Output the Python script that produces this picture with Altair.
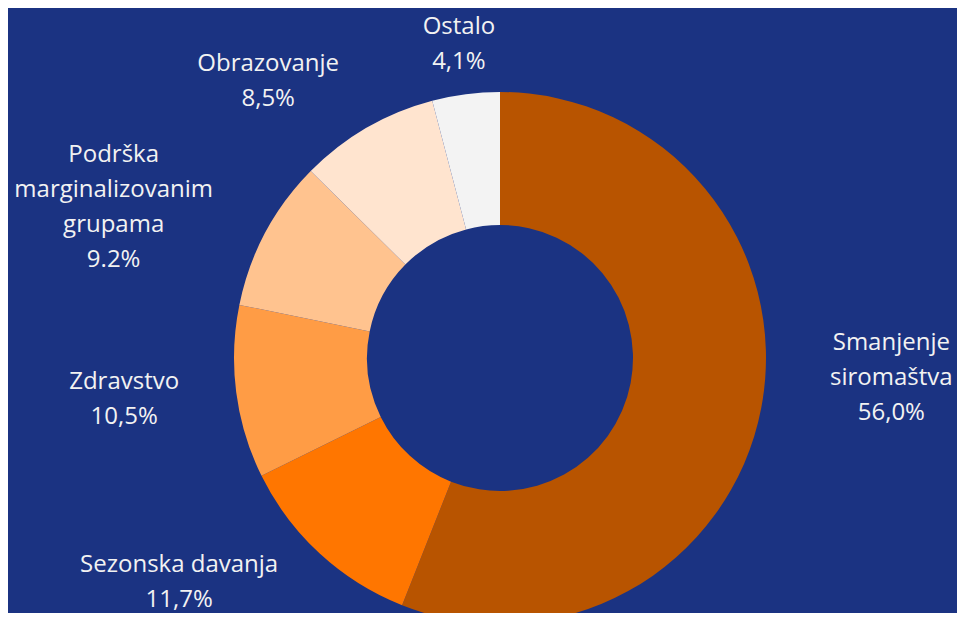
import altair as alt
import pandas as pd

# ---- data ----
categories = [
    "Smanjenje siromaštva",
    "Sezonska davanja",
    "Zdravstvo",
    "Podrška marginalizovanim grupama",
    "Obrazovanje",
    "Ostalo",
]
values = [56.0, 11.7, 10.5, 9.2, 8.5, 4.1]
value_labels = ["56,0%", "11,7%", "10,5%", "9.2%", "8,5%", "4,1%"]
name_lines = [
    "Smanjenje\nsiromaštva",
    "Sezonska davanja",
    "Zdravstvo",
    "Podrška\nmarginalizovanim\ngrupama",
    "Obrazovanje",
    "Ostalo",
]
colors = ["#b85400", "#ff7600", "#ff9c45", "#ffc38f", "#ffe4cf", "#f3f3f3"]

# ---- styling ----
BG = "#1b3382"
TEXT = "#f2f2f2"
FONT = "Open Sans"
FS = 24
LH = 35
W, H = 949, 605
CX, CY = 492, 350          # donut centre inside the view
R_IN, R_OUT = 133, 266
LABEL_R = 320              # distance of label anchors from centre
CHAR_W = 13                # approx. text width per character
RIGHT_DX, RIGHT_DY = 12, -40
TOP_LIMIT = 19             # keep the first line of a label inside the view
BOTTOM_LIMIT = H - 13      # keep the last line of a label inside the view

labels = [n + "\n" + v for n, v in zip(name_lines, value_labels)]
maxlen = [max(len(s) for s in l.split("\n")) for l in labels]
nlines = [len(l.split("\n")) for l in labels]

df = pd.DataFrame({
    "category": categories,
    "value": values,
    "order": list(range(len(categories))),
    "label": labels,
    "maxlen": maxlen,
    "nlines": nlines,
})

base = alt.Chart(df)

arcs = base.mark_arc(innerRadius=R_IN, outerRadius=R_OUT).encode(
    theta=alt.Theta("value:Q", stack=True),
    order=alt.Order("order:Q"),
    color=alt.Color("category:N", scale=alt.Scale(domain=categories, range=colors), legend=None),
    x=alt.value(CX),
    y=alt.value(CY),
)

text = (
    base.transform_window(
        cum="sum(value)", sort=[alt.SortField("order")], frame=[None, 0]
    )
    .transform_joinaggregate(total="sum(value)")
    .transform_calculate(ang="2*PI*(datum.cum - datum.value/2)/datum.total")
    .transform_calculate(
        side="sin(datum.ang) > 0.2 ? 1 : (sin(datum.ang) < -0.2 ? -1 : 0)"
    )
    .transform_calculate(
        lx=f"{CX} + {LABEL_R}*sin(datum.ang) + datum.side*datum.maxlen*{CHAR_W}/2"
           f" + (datum.side == 1 ? {RIGHT_DX} : 0)",
        cy=f"{CY} - {LABEL_R}*cos(datum.ang) + (datum.side == 1 ? {RIGHT_DY} : 0)",
    )
    .transform_calculate(
        first=f"datum.cy - (datum.nlines - 1)*{LH}/2",
    )
    .transform_calculate(
        ly=f"max({TOP_LIMIT}, min(datum.first, {BOTTOM_LIMIT} - (datum.nlines - 1)*{LH}))",
    )
    .mark_text(
        align="center", baseline="middle", lineBreak="\n", lineHeight=LH,
        font=FONT, fontSize=FS, color=TEXT,
    )
    .encode(
        x=alt.X("lx:Q", scale=None, axis=None),
        y=alt.Y("ly:Q", scale=None, axis=None),
        text="label:N",
    )
)

chart = (
    alt.layer(arcs, text)
    .properties(width=W, height=H, padding=0,
                autosize=alt.AutoSizeParams(type="none"),
                background=BG)
    .configure_view(stroke=None)
)

chart.save("out.html", embed_options={"renderer": "svg", "actions": False})
